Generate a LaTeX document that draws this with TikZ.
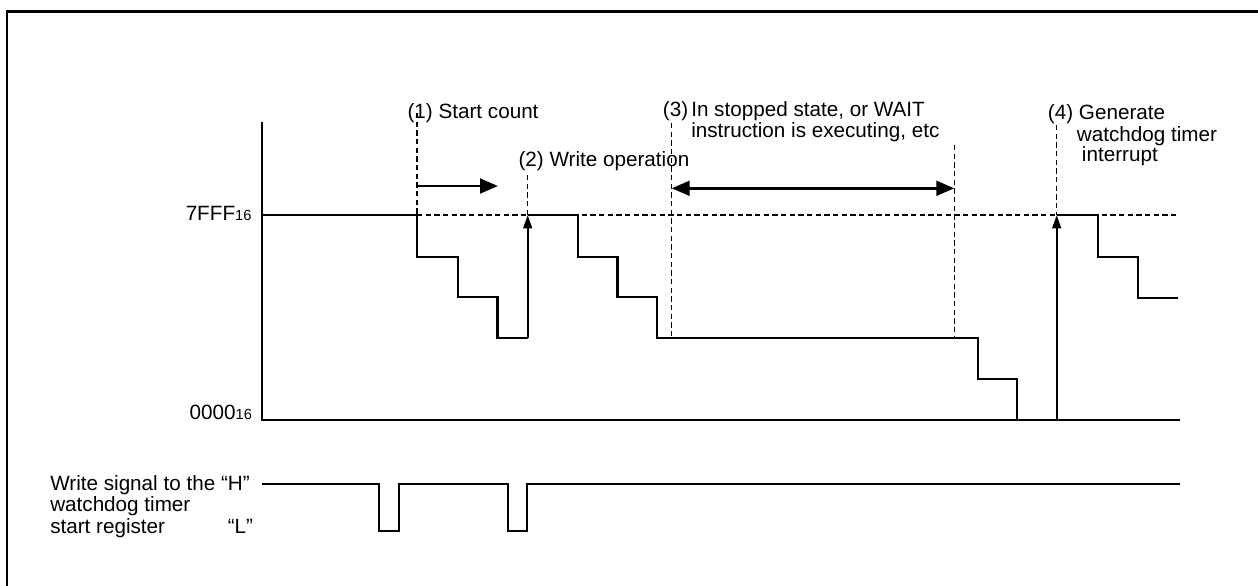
\documentclass[tikz,border=0pt]{standalone}
\usepackage{fontspec}
\setmainfont{Liberation Sans}
\usetikzlibrary{arrows.meta}
\tikzset{
  wave/.style={line width=1.7pt},
  guide/.style={line width=1.1pt, dash pattern=on 4pt off 2.5pt},
  span/.style={line width=2.2pt, -{Triangle[length=13.5pt,width=11pt]}},
  rise/.style={line width=1.7pt, -{Triangle[length=10pt,width=6.5pt]}},
  lbl/.style={inner sep=0pt, anchor=base west, font=\fontsize{15.5}{16}\selectfont},
}
\newcommand{\hexval}[1]{#1{\fontsize{11}{12}\selectfont 16}}

\begin{document}
\begin{tikzpicture}[x=0.75pt, y=-0.75pt]
\useasboundingbox (0,0) rectangle (1258,586);
% frame
\draw[line width=1.9pt] (7,586) -- (7,11.5) -- (1258,11.5);
% axes
\draw[wave] (261.7,122) -- (261.7,420) -- (1180,420);
% marker positions
\coordinate (t1) at (417,215);
\coordinate (t2) at (527.7,215);
\coordinate (t3) at (671.7,338);
\coordinate (t3e) at (954.3,338);
\coordinate (t4) at (1056.7,215);
% 7FFF level and guides
\draw[guide] (t1) -- (1178,215);
\draw[guide] (417,113) -- (t1);
\draw[guide] (527.7,175) -- (t2);
\draw[guide] (671.7,123) -- (t3);
\draw[guide] (954.3,145) -- (t3e);
\draw[guide] (1056.7,125) -- (t4);
% counter value
\draw[wave] (261.7,215) -- (t1) |- (457.7,256.7) |- (497.5,297) |- (527.7,338);
\draw[rise] (527.7,338) -- (t2);
\draw[wave] (t2) -- (577.7,215) |- (617.5,256.7) |- (656.7,297) |- (977.7,338) |- (1016.7,379) -- (1016.7,420);
\draw[rise] (1056.7,420) -- (t4);
\draw[wave] (t4) -- (1098.3,215) |- (1137.7,256.7) |- (1178.3,297.7);
% periods
\draw[span] (417,186) -- (498,186);
\draw[span, {Triangle[length=13.5pt,width=11pt]}-{Triangle[length=13.5pt,width=11pt]}] (671.7,188.3) -- (954.3,188.3);
% write signal
\draw[wave] (261.7,484.3) -| (379.3,531) -| (399,484.3) -| (508.3,531) -| (527.3,484.3) -- (1180,484.3);
% labels
\node[lbl] (c1) at (407.3,118.3) {(1) Start count};
\node[lbl] (c2) at (518.3,166.7) {(2) Write operation};
\node[lbl] (c3) at (662.7,116) {(3)};
\node[lbl] (c3a) at (691,116) {In stopped state, or WAIT};
\node[lbl] (c3b) at (691,137.3) {instruction is executing, etc};
\node[lbl] (c4) at (1047.7,119.5) {(4) Generate};
\node[lbl] (c4a) at (1076.7,141) {watchdog timer};
\node[lbl] (c4b) at (1081.7,161) {interrupt};
\node[lbl, anchor=base east] (vtop) at (251.7,220.7) {\hexval{7FFF}};
\node[lbl, anchor=base east] (vbot) at (252.3,419) {\hexval{0000}};
\node[lbl] (sig1) at (50,490.7) {Write signal to the “H”};
\node[lbl] (sig2) at (50,511.7) {watchdog timer};
\node[lbl] (sig3) at (50,533.3) {start register};
\node[lbl, anchor=base east] (sigl) at (253.3,533.3) {“L”};
\end{tikzpicture}
\end{document}
